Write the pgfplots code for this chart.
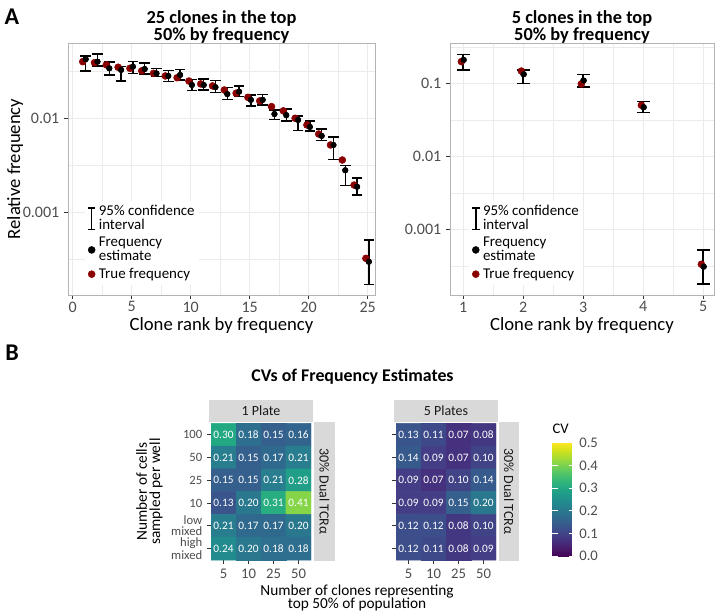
\documentclass[border=0pt]{standalone}
\usepackage{fontspec}
\setmainfont{Carlito}
\usepackage{pgfplots}
\usepackage{pgfplotstable}
\pgfplotsset{compat=1.18}

\definecolor{truered}{HTML}{8B0000}
\definecolor{stripgray}{HTML}{D9D9D9}
\definecolor{ticktext}{HTML}{4D4D4D}
\definecolor{tickline}{HTML}{333333}
\definecolor{gridmaj}{HTML}{EBEBEB}
\definecolor{framegray}{HTML}{B3B3B3}

% rank, true freq, estimate, CI low, CI high
\pgfplotstableread{
x red est lo hi
1 0.0400 0.0425 0.0320 0.0460
2 0.0390 0.0400 0.0360 0.0480
3 0.0370 0.0340 0.0290 0.0397
4 0.0349 0.0327 0.0250 0.0354
5 0.0340 0.0354 0.0298 0.0400
6 0.0320 0.0334 0.0296 0.0387
7 0.0301 0.0300 0.0277 0.0340
8 0.0282 0.0282 0.0245 0.0324
9 0.0270 0.0289 0.0255 0.0332
10 0.0249 0.0226 0.0197 0.0260
11 0.0232 0.0226 0.0200 0.0262
12 0.0221 0.0214 0.0189 0.0251
13 0.0200 0.0181 0.0159 0.0212
14 0.0185 0.0192 0.0170 0.0221
15 0.0167 0.0157 0.0135 0.0177
16 0.0153 0.0157 0.0139 0.0180
17 0.0133 0.0111 0.00976 0.0123
18 0.0120 0.0108 0.0094 0.0125
19 0.0100 0.0096 0.0074 0.0106
20 0.0085 0.0081 0.0073 0.0094
21 0.0068 0.0065 0.0058 0.0077
22 0.0052 0.0052 0.00366 0.0063
23 0.0036 0.0028 0.00192 0.00313
24 0.00195 0.00187 0.00153 0.00233
25 0.000324 0.000298 0.000171 0.000507
}\tabtwentyfive

\pgfplotstableread{
x red est lo hi
1 0.198 0.209 0.152 0.249
2 0.147 0.133 0.100 0.151
3 0.098 0.109 0.089 0.131
4 0.050 0.047 0.040 0.056
5 0.000332 0.000308 0.000177 0.00052
}\tabfive

% CV heatmaps: col 0..3 = 5,10,25,50 clones; row 0..5 = 100,50,25,10,low mixed,high mixed
\pgfplotstableread{
col row cv
0 0 0.30
1 0 0.18
2 0 0.15
3 0 0.16
0 1 0.21
1 1 0.15
2 1 0.17
3 1 0.21
0 2 0.15
1 2 0.15
2 2 0.21
3 2 0.28
0 3 0.13
1 3 0.20
2 3 0.31
3 3 0.41
0 4 0.21
1 4 0.17
2 4 0.17
3 4 0.20
0 5 0.24
1 5 0.20
2 5 0.18
3 5 0.18
}\hmone

\pgfplotstableread{
col row cv
0 0 0.13
1 0 0.11
2 0 0.07
3 0 0.08
0 1 0.14
1 1 0.09
2 1 0.07
3 1 0.10
0 2 0.09
1 2 0.07
2 2 0.10
3 2 0.14
0 3 0.09
1 3 0.09
2 3 0.15
3 3 0.20
0 4 0.12
1 4 0.12
2 4 0.08
3 4 0.10
0 5 0.12
1 5 0.11
2 5 0.08
3 5 0.09
}\hmfive

\pgfplotsset{
  freqpanel/.style={
    scale only axis, height=189pt,
    axis line style={framegray, line width=0.6pt},
    tick align=outside, tick pos=left,
    major tick length=3pt, minor tick length=0pt,
    tick style={tickline, line width=0.5pt},
    ticklabel style={font=\fontsize{12}{13}\selectfont, text=ticktext},
    xticklabel style={yshift=1.5pt},
    grid=both,
    major grid style={gridmaj, line width=0.6pt},
    minor grid style={gridmaj, line width=0.35pt},
    title style={at={(0.5,1)}, anchor=south, yshift=-6.5pt, align=center,
      inner sep=0pt, font=\fontsize{13.8}{11.8}\selectfont\bfseries},
    xlabel={Clone rank by frequency},
    xlabel style={at={(axis description cs:0.5,0)}, anchor=center,
      yshift=-23pt, font=\fontsize{14}{15}\selectfont},
    legend style={draw=none, fill=white, inner sep=1.5pt,
      font=\fontsize{11.2}{10.5}\selectfont,
      cells={anchor=west, align=left}, row sep=0pt},
  },
  hmpanel/.style={
    scale only axis, width=75pt, height=102.5pt,
    xmin=-0.5, xmax=3.5, ymin=-0.5, ymax=5.5, y dir=reverse,
    axis line style={draw=none},
    tick align=outside, tick pos=left, major tick length=3pt,
    tick style={tickline, line width=0.6pt},
    xtick={0,1,2,3}, xticklabels={5,10,25,50}, ytick={0,1,2,3,4,5},
    xticklabel style={font=\fontsize{11}{12}\selectfont, text=ticktext},
    yticklabel style={font=\fontsize{9.5}{8}\selectfont, text=ticktext, align=right,
      inner ysep=0pt},
    colormap name=viridis, point meta min=0, point meta max=0.5,
  },
  cvlabels/.style={only marks, mark=none, point meta=explicit symbolic,
    nodes near coords, nodes near coords align=center,
    every node near coord/.append style={text=white, inner sep=0pt,
      font=\fontsize{8.5}{9}\selectfont}},
  capmark/.style={only marks, mark=-, black, forget plot,
    mark options={line width=1.1pt}},
}

\begin{document}
\begin{tikzpicture}
\path[use as bounding box] (0,0) rectangle (541.5pt,461.25pt);

% ---- A, left: 25 clones
\begin{semilogyaxis}[freqpanel, at={(51pt,240pt)}, anchor=south west, width=230.25pt,
  /pgf/number format/assume math mode=true,
  xmin=-0.4, xmax=25.62, ymin=1.32e-4, ymax=0.0632,
  xtick={0,5,10,15,20,25}, minor xtick={2.5,7.5,12.5,17.5,22.5},
  ytick={0.001,0.01}, yticklabels={0.001,0.01},
  minor ytick={0.000316,0.00316,0.0316},
  title={25 clones in the top\\50\% by frequency},
  ylabel={Relative frequency},
  ylabel style={at={(axis description cs:-0.172,0.5)}, anchor=center,
    font=\fontsize{14}{15}\selectfont},
  legend style={at={(axis description cs:0.055,0.375)}, anchor=north west},
]
\addlegendimage{legend image code/.code={%
    \draw[black, line width=1.1pt] (0.2cm,-0.28cm)--(0.2cm,0.28cm)
      (0.1cm,-0.28cm)--(0.3cm,-0.28cm) (0.1cm,0.28cm)--(0.3cm,0.28cm);}}
\addlegendimage{legend image code/.code={\fill[black] (0.2cm,0cm) circle (2.6pt);}}
\addlegendimage{legend image code/.code={\fill[truered] (0.2cm,0cm) circle (2.6pt);}}
\addplot[only marks, mark=none, black, forget plot,
  error bars/.cd, y dir=both, y explicit, error mark=none,
  error bar style={line width=1.1pt, black}]
  table[x expr=\thisrow{x}+0.1, y=est,
    y error plus expr=\thisrow{hi}-\thisrow{est},
    y error minus expr=\thisrow{est}-\thisrow{lo}] {\tabtwentyfive};
\addplot[capmark, mark size=4pt] table[x expr=\thisrow{x}+0.1, y=lo] {\tabtwentyfive};
\addplot[capmark, mark size=4pt] table[x expr=\thisrow{x}+0.1, y=hi] {\tabtwentyfive};
\addplot[only marks, mark=*, mark size=2.6pt, truered, forget plot]
  table[x expr=\thisrow{x}-0.15, y=red] {\tabtwentyfive};
\addplot[only marks, mark=*, mark size=2.1pt, black, forget plot]
  table[x expr=\thisrow{x}+0.1, y=est] {\tabtwentyfive};
\legend{{95\% confidence\\interval},{Frequency\\estimate},{True frequency}}
\end{semilogyaxis}

% ---- A, right: 5 clones
\begin{semilogyaxis}[freqpanel, at={(337.5pt,240pt)}, anchor=south west, width=198pt,
  /pgf/number format/assume math mode=true,
  xmin=0.78, xmax=5.18, ymin=1.26e-4, ymax=0.356,
  xtick={1,2,3,4,5}, minor xtick={1.5,2.5,3.5,4.5},
  ytick={0.001,0.01,0.1}, yticklabels={0.001,0.01,0.1},
  minor ytick={0.000316,0.00316,0.0316,0.316},
  title={5 clones in the top\\50\% by frequency},
  legend style={at={(axis description cs:0.072,0.375)}, anchor=north west},
]
\addlegendimage{legend image code/.code={%
    \draw[black, line width=1.1pt] (0.2cm,-0.28cm)--(0.2cm,0.28cm)
      (0.1cm,-0.28cm)--(0.3cm,-0.28cm) (0.1cm,0.28cm)--(0.3cm,0.28cm);}}
\addlegendimage{legend image code/.code={\fill[black] (0.2cm,0cm) circle (2.6pt);}}
\addlegendimage{legend image code/.code={\fill[truered] (0.2cm,0cm) circle (2.6pt);}}
\addplot[only marks, mark=none, black, forget plot,
  error bars/.cd, y dir=both, y explicit, error mark=none,
  error bar style={line width=1.1pt, black}]
  table[x=x, y=est,
    y error plus expr=\thisrow{hi}-\thisrow{est},
    y error minus expr=\thisrow{est}-\thisrow{lo}] {\tabfive};
\addplot[capmark, mark size=5pt] table[x=x, y=lo] {\tabfive};
\addplot[capmark, mark size=5pt] table[x=x, y=hi] {\tabfive};
\addplot[only marks, mark=*, mark size=2.6pt, truered, forget plot]
  table[x expr=\thisrow{x}-0.03, y=red] {\tabfive};
\addplot[only marks, mark=*, mark size=2.1pt, black, forget plot]
  table[x expr=\thisrow{x}+0.01, y=est] {\tabfive};
\legend{{95\% confidence\\interval},{Frequency\\estimate},{True frequency}}
\end{semilogyaxis}

% ---- B, heatmaps
\begin{axis}[hmpanel, at={(158.25pt,41.25pt)}, anchor=south west,
  yticklabels={100,50,25,10,{low\\mixed},{high\\mixed}}]
\addplot[matrix plot*, mesh/cols=4, point meta=explicit]
  table[x=col, y=row, meta=cv] {\hmone};
\addplot[cvlabels] table[x=col, y=row, meta=cv] {\hmone};
\end{axis}

\begin{axis}[hmpanel, at={(297pt,41.25pt)}, anchor=south west,
  yticklabels={},
  colorbar,
  colorbar style={at={(parent axis.north east)}, anchor=north west,
    xshift=33.75pt, yshift=-14.55pt, scale only axis,
    width=16.7pt, height=85pt,
    axis line style={draw=none},
    ytick={0,0.1,0.2,0.3,0.4,0.5},
    ytick pos=both, yticklabel pos=right,
    tick align=inside, major tick length=4pt,
    ytick style={white, line width=0.6pt},
    yticklabel style={font=\fontsize{11}{12}\selectfont, text=ticktext,
      /pgf/number format/.cd, fixed, fixed zerofill, precision=1,
      assume math mode=true},
    title={CV},
    title style={at={(0,1)}, anchor=south west, inner sep=0pt, yshift=1pt,
      font=\fontsize{11}{12}\selectfont},
  }]
\addplot[matrix plot*, mesh/cols=4, point meta=explicit]
  table[x=col, y=row, meta=cv] {\hmfive};
\addplot[cvlabels] table[x=col, y=row, meta=cv] {\hmfive};
\end{axis}

% facet strips
\fill[stripgray] (156.75pt,145.1pt) rectangle (234.75pt,161.6pt);
\node[text=black!90, font=\fontsize{10.5}{12}\selectfont] at (195.75pt,153.35pt) {1 Plate};
\fill[stripgray] (295.5pt,145.1pt) rectangle (373.5pt,161.6pt);
\node[text=black!90, font=\fontsize{10.5}{12}\selectfont] at (334.5pt,153.35pt) {5 Plates};
\fill[stripgray] (235.5pt,40.5pt) rectangle (251.25pt,144.75pt);
\node[rotate=-90, text=black!90, font=\fontsize{10.5}{12}\selectfont] at (243.4pt,92.6pt) {30\% Dual TCRα};
\fill[stripgray] (374.25pt,40.5pt) rectangle (389.25pt,144.75pt);
\node[rotate=-90, text=black!90, font=\fontsize{10.5}{12}\selectfont] at (381.75pt,92.6pt) {30\% Dual TCRα};

% heatmap axis titles
\node[rotate=90, align=center, font=\fontsize{11.5}{10}\selectfont] at (112pt,92.6pt)
  {Number of cells\\sampled per well};
\node[align=center, font=\fontsize{11.5}{10}\selectfont] at (267.75pt,12.75pt)
  {Number of clones representing\\top 50\% of population};

% titles and panel letters
\node[font=\fontsize{13.4}{15}\selectfont\bfseries] at (264.4pt,178.5pt) {CVs of Frequency Estimates};
\node[font=\fontsize{18}{20}\selectfont\bfseries] at (9pt,448.5pt) {A};
\node[font=\fontsize{18}{20}\selectfont\bfseries] at (9pt,196.5pt) {B};
\end{tikzpicture}
\end{document}
